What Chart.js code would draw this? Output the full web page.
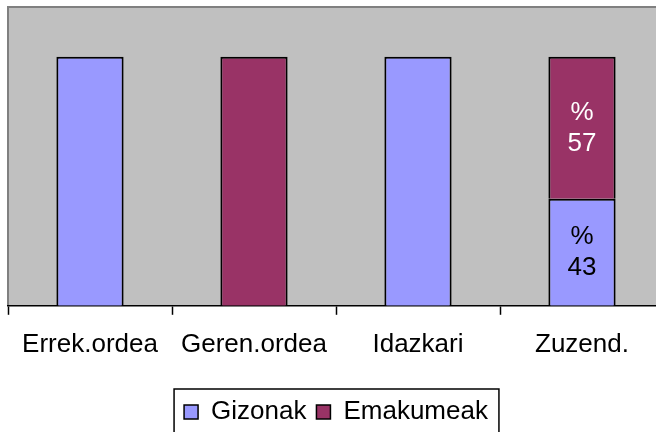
<!DOCTYPE html>
<html>
<head>
<meta charset="utf-8">
<script src="https://cdn.jsdelivr.net/npm/chart.js@4/dist/chart.umd.min.js"></script>
<style>
    html, body { margin: 0; padding: 0; background: #ffffff; overflow: hidden; }
    #wrap { position: relative; width: 664px; height: 435px; }
</style>
</head>
<body>
<div id="wrap"><canvas id="chart" width="664" height="435"></canvas></div>
<script>
// Categories and series (percent of each post)
const categories = ['Errek.ordea', 'Geren.ordea', 'Idazkari', 'Zuzend.'];
const seriesNames = ['Gizonak', 'Emakumeak'];
const gizonak = [100, 0, 100, 43];
const emakumeak = [0, 100, 0, 57];

const colours = ['#9999FF', '#993366'];
const labelColours = ['#000000', '#FFFFFF'];

// Grey plot area with the darker top/left frame
const plotBackground = {
    id: 'plotBackground',
    beforeDraw: (chart) => {
        const ctx = chart.ctx;
        const { top, left, right, bottom } = chart.chartArea;
        ctx.save();
        ctx.fillStyle = '#C0C0C0';
        ctx.fillRect(left, top, right - left, bottom - top);
        ctx.strokeStyle = '#808080';
        ctx.lineWidth = 2;
        ctx.beginPath();
        ctx.moveTo(left, bottom);
        ctx.lineTo(left, top);
        ctx.lineTo(right, top);
        ctx.stroke();
        ctx.restore();
    },
};

// "%" over the value, only on split bars
const segmentLabels = {
    id: 'segmentLabels',
    afterDatasetsDraw: (chart) => {
        const ctx = chart.ctx;
        ctx.save();
        ctx.font = '26px "Liberation Sans", Arial, sans-serif';
        ctx.textAlign = 'center';
        ctx.textBaseline = 'middle';
        chart.data.datasets.forEach((ds, i) => {
            chart.getDatasetMeta(i).data.forEach((bar, j) => {
                const v = ds.data[j];
                if (!v || v >= 100) return;
                const mid = (bar.y + bar.base) / 2;
                ctx.fillStyle = labelColours[i];
                ctx.fillText('%', bar.x, mid - 15);
                ctx.fillText(String(v), bar.x, mid + 16);
            });
        });
        ctx.restore();
    },
};

// Frame round the legend
const legendFrame = {
    id: 'legendFrame',
    afterDraw: (chart) => {
        const boxes = chart.legend.legendHitBoxes;
        if (!boxes || !boxes.length) return;
        const first = boxes[0];
        const last = boxes[boxes.length - 1];
        const ctx = chart.ctx;
        ctx.save();
        ctx.strokeStyle = '#000000';
        ctx.lineWidth = 1.5;
        ctx.strokeRect(first.left - 10, first.top - 10, last.left + last.width - first.left + 21, first.height + 22);
        ctx.restore();
    },
};

new Chart(document.getElementById('chart'), {
    type: 'bar',
    data: {
        labels: categories,
        datasets: [
            { label: seriesNames[0], data: gizonak, backgroundColor: colours[0] },
            { label: seriesNames[1], data: emakumeak, backgroundColor: colours[1] },
        ],
    },
    plugins: [plotBackground, segmentLabels, legendFrame],
    options: {
        responsive: false,
        animation: false,
        events: [],
        layout: { padding: { left: 8, top: 7, right: 0, bottom: 0 } },
        datasets: {
            bar: {
                borderColor: '#000000',
                borderWidth: 2,
                borderSkipped: 'start',
                inflateAmount: 0,
                categoryPercentage: 1,
                barPercentage: 0.41,
            },
        },
        scales: {
            x: {
                stacked: true,
                offset: true,
                afterFit: (scale) => {
                    scale.height += 15;
                },
                grid: {
                    offset: true,
                    drawOnChartArea: false,
                    tickLength: 9,
                    tickColor: '#000000',
                    tickWidth: 1.5,
                },
                border: { color: '#000000', width: 1.5 },
                ticks: {
                    color: '#000000',
                    padding: 14,
                    maxRotation: 0,
                    font: { family: '"Liberation Sans", Arial, sans-serif', size: 26 },
                },
            },
            y: {
                stacked: true,
                display: false,
                min: 0,
                max: 120,
            },
        },
        plugins: {
            tooltip: { enabled: false },
            legend: {
                position: 'bottom',
                labels: {
                    color: '#000000',
                    boxWidth: 14,
                    boxHeight: 14,
                    padding: 10,
                    font: { family: '"Liberation Sans", Arial, sans-serif', size: 26 },
                    generateLabels: (chart) => chart.data.datasets.map((ds, i) => ({
                        text: ds.label,
                        fillStyle: colours[i],
                        strokeStyle: '#000000',
                        lineWidth: 1.5,
                        datasetIndex: i,
                    })),
                },
            },
        },
    },
});
</script>
</body>
</html>
